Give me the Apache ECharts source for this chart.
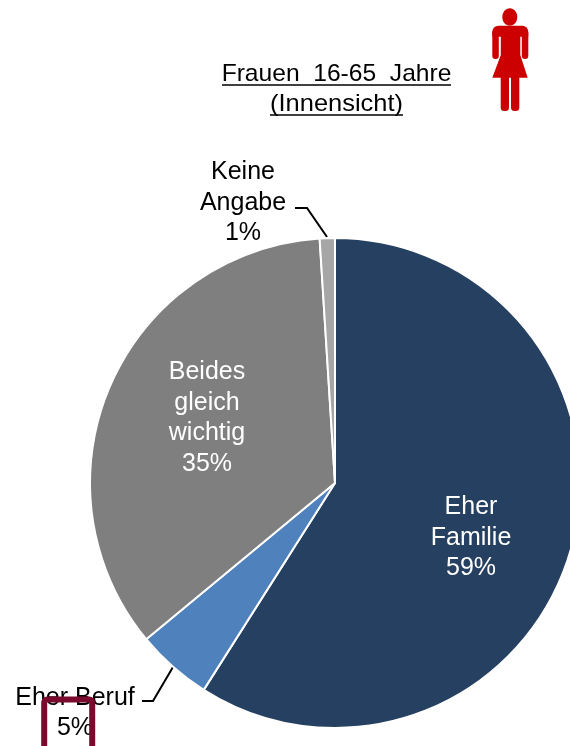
<!DOCTYPE html>
<html>
<head>
<meta charset="utf-8">
<title>Frauen 16-65 Jahre</title>
<script src="https://cdn.jsdelivr.net/npm/echarts@6/dist/echarts.min.js"></script>
<style>
  html, body { margin: 0; padding: 0; background: #fff; }
  #chart { width: 570px; height: 746px; overflow: hidden; }
</style>
</head>
<body>
<div id="chart"></div>
<script>
const categories = ['Eher\nFamilie', 'Eher Beruf', 'Beides\ngleich\nwichtig', 'Keine\nAngabe'];
const values = [59, 5, 35, 1];
const colors = ['#254061', '#4f81bd', '#7f7f7f', '#a6a6a6'];
const titleLines = ['Frauen  16-65  Jahre', '(Innensicht)'];

const FONT = '"Liberation Sans", Arial, sans-serif';
const FONT_SIZE = 25;
const RED = '#cc0000';

// label centres and leader lines per slice, no line = no leader line
const labelSpots = [
    { x: 471, y: 538 },
    { x: 75, y: 713, line: [[142, 701], [153, 701], [173, 667]] },
    { x: 207, y: 418 },
    { x: 243, y: 203, line: [[295, 208], [307, 208], [327, 237]] }
];

function iconPart (type, shape) {
    return { type: type, z: 10, shape: shape, style: { fill: RED } };
}

const chart = echarts.init(document.getElementById('chart'));

chart.setOption({
    animation: false,
    series: [{
        type: 'pie',
        center: [335, 483],
        radius: [0, 245],
        startAngle: 90,
        clockwise: true,
        silent: true,
        minShowLabelAngle: 0,
        data: categories.map(function (name, i) {
            return {
                name: name,
                value: values[i],
                itemStyle: { color: colors[i] },
                label: { color: labelSpots[i].line ? '#000' : '#fff' },
                labelLine: { show: !!labelSpots[i].line }
            };
        }),
        itemStyle: { borderColor: '#fff', borderWidth: 2 },
        label: {
            show: true,
            position: 'outside',
            formatter: '{b}\n{c}%',
            fontFamily: FONT,
            fontSize: FONT_SIZE,
            lineHeight: 30.5,
            overflow: 'none',
            width: 200,
            align: 'center',
            verticalAlign: 'middle'
        },
        labelLine: {
            show: true,
            lineStyle: { color: '#000', width: 2 }
        },
        labelLayout: function (params) {
            const spot = labelSpots[params.dataIndex];
            return {
                x: spot.x,
                y: spot.y,
                align: 'center',
                verticalAlign: 'middle',
                hideOverlap: false,
                labelLinePoints: spot.line
            };
        }
    }],
    graphic: [
        {
            type: 'text', z: 10, x: 336.5, y: 74.5, scaleX: 1.025,
            style: { text: titleLines[0], font: '24px ' + FONT, fill: '#000', align: 'center', verticalAlign: 'middle' }
        },
        {
            type: 'text', z: 10, x: 336.5, y: 104.5, scaleX: 1.06,
            style: { text: titleLines[1], font: '24px ' + FONT, fill: '#000', align: 'center', verticalAlign: 'middle' }
        },
        // chart text has no underline option, so these are drawn under the title
        { type: 'line', z: 10, shape: { x1: 222, y1: 85, x2: 451, y2: 85 }, style: { stroke: '#000', lineWidth: 1.5 } },
        { type: 'line', z: 10, shape: { x1: 270, y1: 115, x2: 403, y2: 115 }, style: { stroke: '#000', lineWidth: 1.5 } },
        // highlight frame round the 5%, its bottom edge runs off the page
        {
            type: 'rect', z: 10,
            shape: { x: 44.2, y: 699.5, width: 48, height: 60, r: 3 },
            style: { fill: 'none', stroke: '#7b0a2e', lineWidth: 6 }
        },
        // woman icon
        iconPart('ellipse', { cx: 509.8, cy: 17, rx: 7.5, ry: 8.8 }),
        iconPart('rect', { x: 492.3, y: 25.7, width: 36, height: 11, r: [6, 6, 0, 0] }),
        iconPart('rect', { x: 492.3, y: 30, width: 6.5, height: 29, r: 3 }),
        iconPart('rect', { x: 521.8, y: 30, width: 6.5, height: 29, r: 3 }),
        iconPart('polygon', { points: [[500.8, 30], [520.3, 30], [520.3, 55], [527.7, 77.7], [492.3, 77.7], [500.8, 55]] }),
        iconPart('rect', { x: 500.7, y: 72, width: 8.3, height: 39, r: [0, 0, 3.5, 3.5] }),
        iconPart('rect', { x: 511, y: 72, width: 8.3, height: 39, r: [0, 0, 3.5, 3.5] })
    ]
});
</script>
</body>
</html>
